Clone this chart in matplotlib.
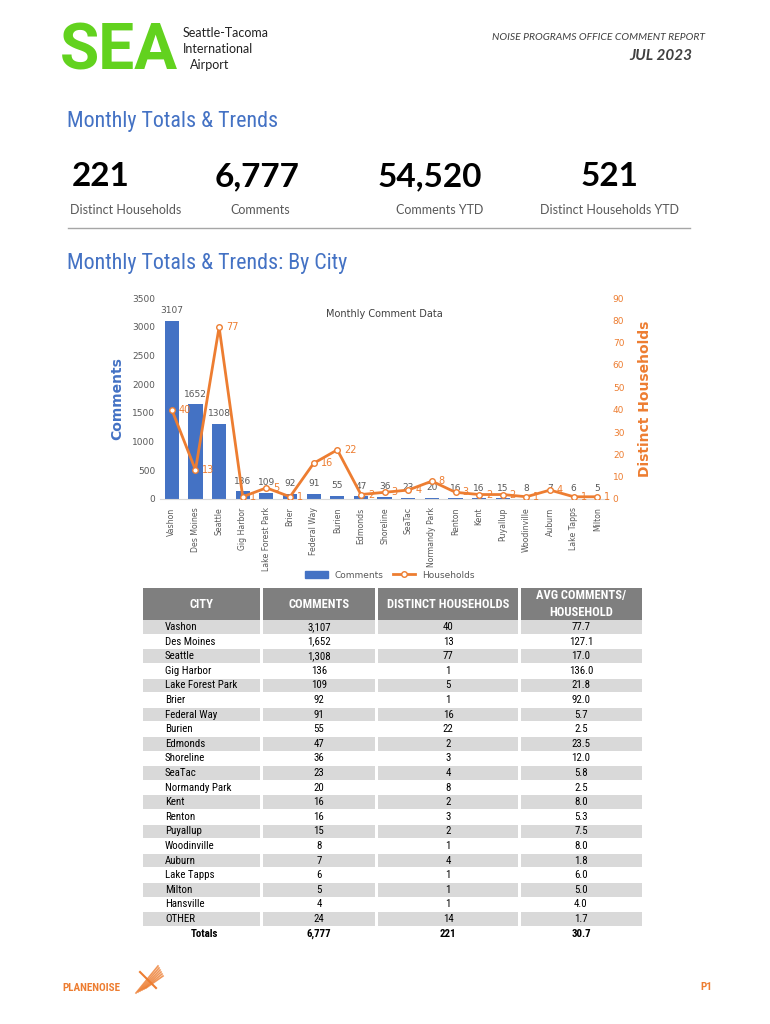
import matplotlib
matplotlib.use('Agg')
import matplotlib.pyplot as plt
from matplotlib import font_manager as fm
from matplotlib.patches import Rectangle
from matplotlib.lines import Line2D

# --- data ---
kpi_values = ['221', '6,777', '54,520', '521']
kpi_labels = ['Distinct Households', 'Comments', 'Comments YTD', 'Distinct Households YTD']

chart_cities = ['Vashon', 'Des Moines', 'Seattle', 'Gig Harbor', 'Lake Forest Park', 'Brier',
                'Federal Way', 'Burien', 'Edmonds', 'Shoreline', 'SeaTac', 'Normandy Park',
                'Renton', 'Kent', 'Puyallup', 'Woodinville', 'Auburn', 'Lake Tapps', 'Milton']
chart_comments = [3107, 1652, 1308, 136, 109, 92, 91, 55, 47, 36, 23, 20, 16, 16, 15, 8, 7, 6, 5]
chart_households = [40, 13, 77, 1, 5, 1, 16, 22, 2, 3, 4, 8, 3, 2, 2, 1, 4, 1, 1]

table_header = ['CITY', 'COMMENTS', 'DISTINCT HOUSEHOLDS', 'AVG COMMENTS/\nHOUSEHOLD']
table_city = ['Vashon', 'Des Moines', 'Seattle', 'Gig Harbor', 'Lake Forest Park', 'Brier',
              'Federal Way', 'Burien', 'Edmonds', 'Shoreline', 'SeaTac', 'Normandy Park', 'Kent',
              'Renton', 'Puyallup', 'Woodinville', 'Auburn', 'Lake Tapps', 'Milton', 'Hansville', 'OTHER']
table_comments = [3107, 1652, 1308, 136, 109, 92, 91, 55, 47, 36, 23, 20, 16, 16, 15, 8, 7, 6, 5, 4, 24]
table_households = [40, 13, 77, 1, 5, 1, 16, 22, 2, 3, 4, 8, 2, 3, 2, 1, 4, 1, 1, 1, 14]
table_avg = [77.7, 127.1, 17.0, 136.0, 21.8, 92.0, 5.7, 2.5, 23.5, 12.0, 5.8, 2.5, 8.0, 5.3,
             7.5, 8.0, 1.8, 6.0, 5.0, 4.0, 1.7]
totals = ['Totals', '6,777', '221', '30.7']

BLUE = '#4472C4'
ORANGE = '#ED7D31'
GREEN = '#62D21E'
GREY = '#595959'

names = {f.name for f in fm.fontManager.ttflist}
NARROW = 'Roboto'
for cand in ['Liberation Sans Narrow', 'Roboto Condensed', 'Arial Narrow']:
    if cand in names:
        NARROW = cand
        break
BODY = 'Lato'

W, H = 770, 1024
fig = plt.figure(figsize=(W / 100, H / 100), dpi=100)
fig.patch.set_facecolor('white')

# background axes in pixel coords for all page text / table
bg = fig.add_axes([0, 0, 1, 1])
bg.set_xlim(0, W)
bg.set_ylim(H, 0)
bg.axis('off')

# header / logo
bg.text(60, 52, 'SEA', fontsize=46, fontweight='bold', color=GREEN, family='Roboto',
        va='center', ha='left')
bg.text(183, 33, 'Seattle-Tacoma', fontsize=9, color='#222222', family=BODY, va='center')
bg.text(183, 49, 'International', fontsize=9, color='#222222', family=BODY, va='center')
bg.text(190, 65, 'Airport', fontsize=9, color='#222222', family=BODY, va='center')
bg.text(705, 37, 'NOISE PROGRAMS OFFICE COMMENT REPORT', fontsize=7.5, style='italic',
        color='#404040', family=BODY, ha='right', va='center')
bg.text(692, 56, 'JUL 2023', fontsize=11, style='italic', fontweight='bold',
        color='#404040', family=BODY, ha='right', va='center')

# section 1
bg.text(67, 122, 'Monthly Totals & Trends', fontsize=15.8, color=BLUE, family=NARROW, va='center')
kpi_x = [101, 257, 430, 610]
lab_x = [126, 260, 440, 609]
for i in range(4):
    bg.text(kpi_x[i], 177, kpi_values[i], fontsize=24, fontweight='bold', color='black',
            family=BODY, ha='center', va='center')
    bg.text(lab_x[i], 210, kpi_labels[i], fontsize=9, color=GREY, family=BODY,
            ha='center', va='center')
bg.plot([68, 690], [228, 228], color='#A6A6A6', lw=1)

bg.text(67, 263, 'Monthly Totals & Trends: By City', fontsize=15.8, color=BLUE, family=NARROW,
        va='center')

# table
col_edges = [(143, 260), (263, 375), (378, 518), (521, 642)]
for j, (a, b) in enumerate(col_edges):
    bg.add_patch(Rectangle((a, 588), b - a, 32, color='#7F7F7F', lw=0))
    bg.text((a + b) / 2, 604, table_header[j], fontsize=9, fontweight='bold', color='white',
            family=NARROW, ha='center', va='center', linespacing=1.3)
row_h = 14.6
for i in range(len(table_city)):
    yc = 627 + row_h * i
    if i % 2 == 0:
        for a, b in col_edges:
            bg.add_patch(Rectangle((a, yc - row_h / 2 + 0.5), b - a, row_h - 1,
                                   color='#D9D9D9', lw=0))
    bg.text(165, yc, table_city[i], fontsize=7.8, color='black', family=NARROW, va='center')
    bg.text(319, yc, f'{table_comments[i]:,}', fontsize=7.8, color='black', family=NARROW,
            ha='center', va='center')
    bg.text(448, yc, str(table_households[i]), fontsize=7.8, color='black', family=NARROW,
            ha='center', va='center')
    bg.text(581, yc, f'{table_avg[i]:.1f}', fontsize=7.8, color='black', family=NARROW,
            ha='center', va='center')
ty = 627 + row_h * len(table_city)
for x, t in zip([204, 319, 448, 581], totals):
    bg.text(x, ty, t, fontsize=7.8, fontweight='bold', color='black', family=NARROW,
            ha='center', va='center')

# footer
bg.text(62, 988, 'PLANENOISE', fontsize=8, fontweight='bold', color=ORANGE, family=NARROW,
        va='center')
for k in range(6):
    bg.plot([136 + k * 2, 158 + k], [993 - k, 966 + k * 2], color=ORANGE, lw=1.2, alpha=0.8)
bg.plot([140, 156], [972, 988], color=ORANGE, lw=1.5)
bg.text(700, 987, 'P1', fontsize=8, fontweight='bold', color=ORANGE, family=NARROW, va='center')

# chart
ax = fig.add_axes([160 / W, 1 - 499 / H, 448 / W, 201 / H])
x = list(range(len(chart_cities)))
bars = ax.bar(x, chart_comments, width=0.6, color=BLUE, zorder=2)
ax.set_xlim(-0.5, 18.45)
ax.set_ylim(0, 3500)
ax.set_yticks(range(0, 3501, 500))
ax.tick_params(axis='y', length=0, labelsize=6.5, labelcolor=GREY)
ax.set_xticks(x)
ax.set_xticklabels(chart_cities, rotation=90, fontsize=5.6, color=GREY)
ax.tick_params(axis='x', length=0, pad=6)
for s in ['top', 'right', 'left']:
    ax.spines[s].set_visible(False)
ax.spines['bottom'].set_color('#D9D9D9')
for xi, v in zip(x, chart_comments):
    ax.annotate(str(v), (xi, v), xytext=(0, 4), textcoords='offset points', ha='center',
                va='bottom', fontsize=6.5, color=GREY)
ax.set_ylabel('Comments', fontsize=10, fontweight='bold', color=BLUE, labelpad=6)
ax.text(0.5, 0.92, 'Monthly Comment Data', transform=ax.transAxes, fontsize=7,
        color='#404040', ha='center', va='center')

ax2 = ax.twinx()
ax2.plot(x, chart_households, color=ORANGE, lw=2, marker='o', markersize=4,
         markerfacecolor='white', markeredgecolor=ORANGE, markeredgewidth=1, zorder=3)
ax2.set_ylim(0, 90)
ax2.set_yticks(range(0, 91, 10))
ax2.tick_params(axis='y', length=0, labelsize=6.5, labelcolor=ORANGE)
for s in ['top', 'right', 'left', 'bottom']:
    ax2.spines[s].set_visible(False)
for xi, v in zip(x, chart_households):
    ax2.annotate(str(v), (xi, v), xytext=(5, 0), textcoords='offset points', ha='left',
                 va='center', fontsize=7, color=ORANGE)
ax2.set_ylabel('Distinct Households', fontsize=10, fontweight='bold', color=ORANGE, labelpad=10)

handles = [Rectangle((0, 0), 1, 1, color=BLUE),
           Line2D([0], [0], color=ORANGE, lw=2, marker='o', markersize=4,
                  markerfacecolor='white', markeredgecolor=ORANGE)]
fig.legend(handles, ['Comments', 'Households'], loc='center', ncol=2, frameon=False,
           fontsize=6.5, bbox_to_anchor=(390 / W, 1 - 575 / H), handlelength=2.5,
           columnspacing=1, labelcolor=GREY)

fig.savefig('out.png', dpi=100)
